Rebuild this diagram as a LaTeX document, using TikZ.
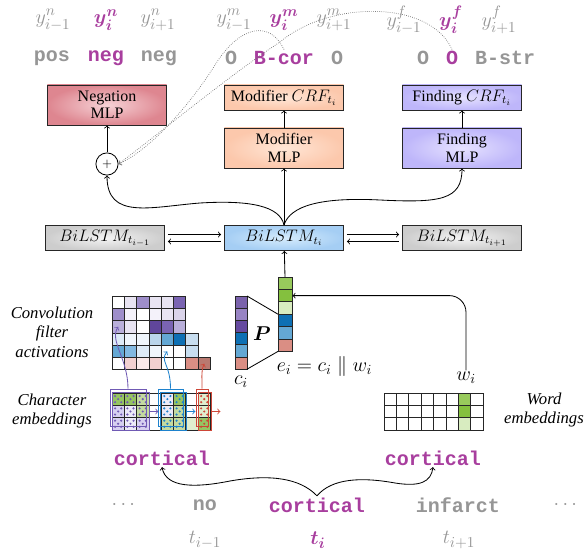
\documentclass[tikz,border=0pt]{standalone}
\usepackage{amsmath,amssymb}
\usepackage{fontspec}
\setmainfont{Liberation Serif}
\setmonofont{Liberation Mono}
\usetikzlibrary{calc,positioning}

% text colours
\definecolor{hilite}{RGB}{168,62,158}
\definecolor{faded}{RGB}{150,150,150}
% box shadings
\definecolor{negout}{RGB}{222,134,144}
\definecolor{negin}{RGB}{246,210,214}
\definecolor{modout}{RGB}{252,200,172}
\definecolor{modin}{RGB}{255,230,214}
\definecolor{fndout}{RGB}{190,182,250}
\definecolor{fndin}{RGB}{230,226,255}
\definecolor{grayout}{RGB}{205,205,205}
\definecolor{grayin}{RGB}{244,244,244}
\definecolor{bluout}{RGB}{165,206,244}
\definecolor{bluin}{RGB}{214,236,252}
% cell palette
\definecolor{pA}{RGB}{244,242,250}
\definecolor{pB}{RGB}{232,228,242}
\definecolor{pC}{RGB}{218,212,234}
\definecolor{pD}{RGB}{185,175,218}
\definecolor{pE}{RGB}{158,142,202}
\definecolor{pF}{RGB}{122,100,178}
\definecolor{pG}{RGB}{96,70,155}
\definecolor{bA}{RGB}{240,246,252}
\definecolor{bB}{RGB}{222,235,247}
\definecolor{bC}{RGB}{200,222,240}
\definecolor{bD}{RGB}{186,213,235}
\definecolor{bE}{RGB}{130,185,225}
\definecolor{bF}{RGB}{100,168,212}
\definecolor{bG}{RGB}{14,112,180}
\definecolor{rA}{RGB}{250,234,234}
\definecolor{rB}{RGB}{242,208,208}
\definecolor{rC}{RGB}{218,142,132}
\definecolor{gA}{RGB}{150,196,98}
\definecolor{gB}{RGB}{196,218,160}
\definecolor{gC}{RGB}{224,238,206}
\definecolor{lA}{RGB}{214,208,240}
\definecolor{lB}{RGB}{236,234,248}
\definecolor{eGa}{RGB}{152,202,92}
\definecolor{eGb}{RGB}{132,192,62}
\definecolor{eGc}{RGB}{216,236,192}
\definecolor{cPa}{RGB}{122,98,172}
\definecolor{cPb}{RGB}{152,132,196}
\definecolor{cPc}{RGB}{102,74,160}
% conv windows
\definecolor{winP}{RGB}{112,90,180}
\definecolor{winB}{RGB}{30,130,205}
\definecolor{winR}{RGB}{205,70,55}

\begin{document}
\begin{tikzpicture}[x=0.72pt, y=-0.72pt, line width=0.6pt, >=to,
  tag/.style={font=\fontsize{14.4}{16}\selectfont\ttfamily\bfseries, text=faded, inner sep=1pt},
  ylab/.style={font=\fontsize{15.5}{17}\selectfont, text=faded, inner sep=0pt},
  hot/.style={text=hilite},
  box/.style={draw=black!85, align=center, minimum width=86pt, inner sep=1pt,
    font=\fontsize{11.5}{12.5}\selectfont},
  mlpbox/.style={box, minimum height=28.8pt},
  crfbox/.style={box, minimum height=18pt},
  lstmbox/.style={box, minimum height=18pt, font=\fontsize{12}{14}\selectfont},
  cell/.style={draw=black!85, line width=0.5pt},
  side/.style={font=\fontsize{12}{14}\selectfont\itshape, align=center},
  dotline/.style={->, densely dotted, draw=black!55, line width=0.5pt},
  winbox/.style={draw, line width=0.6pt, inner sep=0pt},
]
\useasboundingbox (0,0) rectangle (584,553);
\pgfmathsetmacro{\cw}{12.3} % cell size
\pgfmathsetmacro{\gx}{112} % left of char grids
\pgfmathsetmacro{\wx}{384} % left of word grid

% tags and labels
\node[ylab] (yn1) at (53,20) {$y^n_{i-1}$};
\node[ylab,hot] (yn2) at (106,20) {$\boldsymbol{y^n_i}$};
\node[ylab] (yn3) at (158,20) {$y^n_{i+1}$};
\node[ylab] (ym1) at (234,20) {$y^m_{i-1}$};
\node[ylab,hot] (ym2) at (284,20) {$\boldsymbol{y^m_i}$};
\node[ylab] (ym3) at (334,20) {$y^m_{i+1}$};
\node[ylab] (yf1) at (404,20) {$y^f_{i-1}$};
\node[ylab,hot] (yf2) at (451,20) {$\boldsymbol{y^f_i}$};
\node[ylab] (yf3) at (499,20) {$y^f_{i+1}$};

\node[tag] (ln1) at (52,58) {pos};
\node[tag,hot] (ln2) at (106,58) {neg};
\node[tag] (ln3) at (159,58) {neg};
\node[tag] (lm1) at (231,58) {O};
\node[tag,hot] (lm2) at (284,58) {B-cor};
\node[tag] (lm3) at (337,58) {O};
\node[tag] (lf1) at (423,58) {O};
\node[tag,hot] (lf2) at (452,58) {O};
\node[tag] (lf3) at (505,58) {B-str};

% output layers
\node[mlpbox, inner color=negin, outer color=negout] (negmlp) at (107,105) {Negation\\MLP};
\node[crfbox, inner color=modin, outer color=modout] (modcrf) at (284,97.5) {Modifier $CRF_{t_i}$};
\node[mlpbox, inner color=modin, outer color=modout] (modmlp) at (284,148) {Modifier\\MLP};
\node[crfbox, inner color=fndin, outer color=fndout] (fndcrf) at (462,97.5) {Finding $CRF_{t_i}$};
\node[mlpbox, inner color=fndin, outer color=fndout] (fndmlp) at (462,148) {Finding\\MLP};
\node[circle, draw, inner sep=0pt, minimum size=16pt, font=\small] (plus) at (107,164) {$+$};

\draw[->] (plus) -- (negmlp);
\draw[->] (modmlp) -- (modcrf);
\draw[->] (fndmlp) -- (fndcrf);

\draw[dotline] (lm2.north) .. controls (270,20) and (240,25) .. (215,65)
  .. controls (190,105) and (150,150) .. (plus.east);
\draw[dotline] (lf2.north) .. controls (430,0) and (330,0) .. (280,42)
  .. controls (230,75) and (170,125) .. (plus.east);

% BiLSTM
\node[lstmbox, inner color=grayin, outer color=grayout] (lstmL) at (105,238) {$BiLSTM_{t_{i-1}}$};
\node[lstmbox, inner color=bluin, outer color=bluout] (lstmC) at (284,238) {$BiLSTM_{t_i}$};
\node[lstmbox, inner color=grayin, outer color=grayout] (lstmR) at (462,238) {$BiLSTM_{t_{i+1}}$};

\foreach \a/\b in {lstmL/lstmC, lstmC/lstmR} {
  \draw[->, shorten >=2pt, shorten <=2pt] ([yshift=2.5pt]\a.east) -- ([yshift=2.5pt]\b.west);
  \draw[<-, shorten >=2pt, shorten <=2pt] ([yshift=-2.5pt]\a.east) -- ([yshift=-2.5pt]\b.west);
}

\draw[->] (lstmC) -- (modmlp);
\draw[->] (lstmC.north) .. controls (280,206) and (250,200) .. (200,203)
  .. controls (150,207) and (107,220) .. (plus.south);
\draw[->] (lstmC.north) .. controls (290,206) and (320,197) .. (380,200)
  .. controls (440,203) and (462,200) .. (fndmlp.south);

% conv filter activations
\foreach \row [count=\j from 0] in {{white,pB,pE,pB,pB,pF},{pE,pA,white,pA,pB,pC},
    {pD,pB,white,pG,pF,pD},{bB,bA,bA,bD,bF,bG,bC},{bF,bE,bB,bA,white,white,bC},
    {white,rB,rA,rB,white,white,rC,rC!85!black}}
  \foreach \col [count=\i from 0] in \row
    \draw[cell, fill=\col] (\gx+\i*\cw, 296+\j*\cw) rectangle ++(\cw,\cw);
\coordinate (aP) at (\gx+0.5*\cw, 296+2.5*\cw);
\coordinate (aB) at (\gx+4.5*\cw, 296+4.5*\cw);
\coordinate (aR) at (\gx+7.5*\cw, 296+5.5*\cw);

% character embeddings
\foreach \row [count=\j from 0] in {{gA,gA,gB,white,lB,gA,white,gC},
    {lA,lB,gB,white,lB,gB,white,gC},{lA,lB,lA,white,gB,gB,gC,gA}}
  \foreach \col [count=\i from 0] in \row
    \draw[cell, fill=\col] (\gx+\i*\cw, 393+\j*\cw) rectangle ++(\cw,\cw);
\foreach \i/\dc in {0/winP,1/winP,2/winP,4/winB,5/winB,7/winR}
  \foreach \j in {0,1,2}
    \foreach \dx/\dy in {0.25/0.25,0.75/0.25,0.5/0.5,0.25/0.75,0.75/0.75}
      \fill[\dc] (\gx+\i*\cw+\dx*\cw, 393+\j*\cw+\dy*\cw) circle[radius=0.85pt];

% sliding windows
\node[winbox, draw=winP, minimum width=26pt, minimum height=26.6pt] (wP) at (128,407.5) {};
\node[winbox, draw=winB, minimum width=18pt, minimum height=26.6pt] (wB) at (170.5,407.5) {};
\node[winbox, draw=winR, minimum width=8.6pt, minimum height=26.6pt] (wR) at (202,407.5) {};
\foreach \w/\wc in {wP/winP,wB/winB,wR/winR} {
  \draw[draw=\wc] ($(\w.north west)+(3,4)$) rectangle ($(\w.south east)+(3,4)$);
  \draw[->, draw=\wc] ($(\w.east)+(3,4)$) -- ++(9,0);
}
\draw[->, winP] (wP.north) .. controls +(0,-30) and +(-9,14) .. (aP);
\draw[->, winB] (wB.north) .. controls +(0,-25) and +(-8,10) .. (aB);
\draw[->, winR] (wR.north) .. controls +(0,-14) and +(-3,6) .. (aR);

\node[side] (convlab) at (52,332) {Convolution\\filter\\activations};
\node[side] (charlab) at (52,411) {Character\\embeddings};
\node[side] (wordlab) at (544,410) {Word\\embeddings};

% c_i, projection P, e_i
\foreach \col [count=\j from 0] in {cPa,cPb,cPc,bG,bF,rC}
  \draw[cell, fill=\col] (235,296+\j*12.2) rectangle ++(12,12.2);
\foreach \col [count=\j from 0] in {eGa,eGb,eGc,bG,bF,rC}
  \draw[cell, fill=\col] (278,277+\j*12.4) rectangle ++(14,12.4);
\coordinate (ctop) at (247,296);
\coordinate (cbot) at (247,369.2);
\coordinate (emid) at (278,314.2);
\coordinate (ebot) at (278,351.4);
\coordinate (etop) at (285,277);
\coordinate (e2) at (292.5,295.6);
\draw (ctop) -- (emid);
\draw (cbot) -- (ebot);
\node[font=\fontsize{15}{16}\selectfont] (plab) at (262,334) {$\boldsymbol{P}$};
\node[font=\fontsize{14.4}{16}\selectfont] (clab) at (241,382) {$c_i$};
\node[anchor=west, font=\fontsize{14.4}{16}\selectfont, inner sep=1pt] (elab) at (275,366) {$e_i = c_i \parallel w_i$};
\draw[->] (etop) -- (lstmC);

% word embeddings
\foreach \j in {0,1,2}
  \foreach \i in {0,...,7}
    \draw[cell, fill=white] (\wx+\i*12.4, 393+\j*12.4) rectangle ++(12.4,12.4);
\foreach \col [count=\j from 0] in {eGa,eGb,eGc}
  \draw[cell, fill=\col] (\wx+6*12.4, 393+\j*12.4) rectangle ++(12.4,12.4);
\node[font=\fontsize{14.4}{16}\selectfont, inner sep=1pt] (wlab) at (466,378) {$w_i$};
\draw[->, rounded corners=12pt] (wlab.north) |- (e2);

% tokens
\node[tag,hot] (cw) at (162,458) {cortical};
\node[tag,hot] (ww) at (433,458) {cortical};
\node[tag] (dl) at (125,505) {$\cdots$};
\node[tag] (tk1) at (205,505) {no};
\node[tag,hot] (tk2) at (317,505) {cortical};
\node[tag] (tk3) at (458,505) {infarct};
\node[tag] (dr) at (567,505) {$\cdots$};
\node[ylab] (t1) at (205,540) {$t_{i-1}$};
\node[ylab,hot] (t2) at (318,540) {$\boldsymbol{t_i}$};
\node[ylab] (t3) at (459,540) {$t_{i+1}$};

\draw[->] (tk2.north) .. controls (300,478) and (270,474) .. (230,481)
  .. controls (195,488) and (166,488) .. (cw.south);
\draw[->] (tk2.north) .. controls (332,478) and (362,477) .. (395,483)
  .. controls (420,487) and (431,482) .. (ww.south);
\end{tikzpicture}
\end{document}
